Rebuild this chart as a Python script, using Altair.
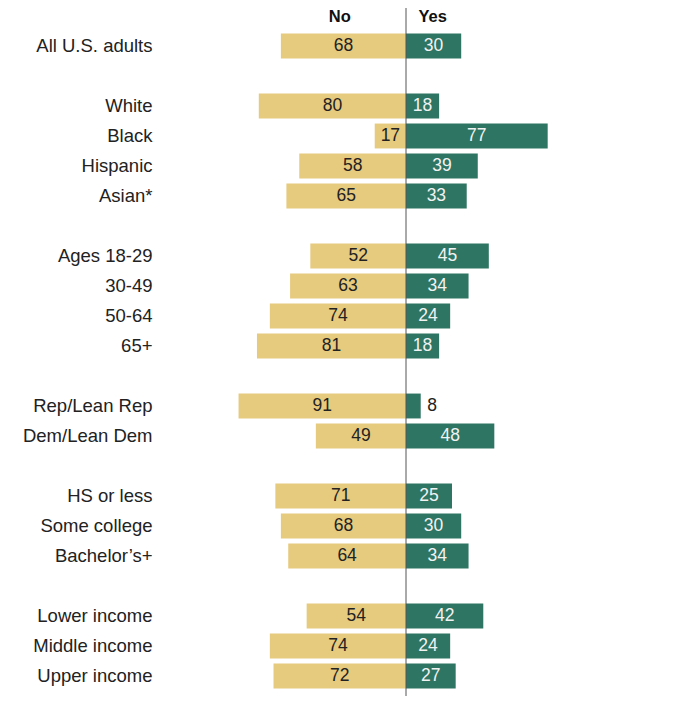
import altair as alt
import pandas as pd

categories = ["All U.S. adults", "_1", "White", "Black", "Hispanic", "Asian*", "_2",
              "Ages 18-29", "30-49", "50-64", "65+", "_3",
              "Rep/Lean Rep", "Dem/Lean Dem", "_4",
              "HS or less", "Some college", "Bachelor\u2019s+", "_5",
              "Lower income", "Middle income", "Upper income"]
groups = [c for c in categories if not c.startswith("_")]
no_values = [68, 80, 17, 58, 65, 52, 63, 74, 81, 91, 49, 71, 68, 64, 54, 74, 72]
yes_values = [30, 18, 77, 39, 33, 45, 34, 24, 18, 8, 48, 25, 30, 34, 42, 24, 27]

df = pd.DataFrame({"group": groups, "no": no_values, "yes": yes_values})

TAN = "#E6CA7E"
TEAL = "#2E7563"
FONT = "Liberation Sans"

W, H = 368, 660

y_enc = alt.Y("group:N", scale=alt.Scale(domain=categories, paddingInner=0.17, paddingOuter=0.085),
              axis=alt.Axis(title=None, domain=False, ticks=False, labelPadding=70,
                            labelFontSize=18.5, labelColor="#222", labelFont=FONT,
                            labelExpr="indexof(datum.value, '_') == 0 ? '' : datum.value"))
x_scale = alt.Scale(domain=[-100, 100])

base = alt.Chart(df)

no_bars = base.transform_calculate(neg="-datum.no", zero="0").mark_bar(color=TAN).encode(
    y=y_enc,
    x=alt.X("neg:Q", scale=x_scale, axis=None),
    x2="zero:Q",
)
yes_bars = base.transform_calculate(zero="0").mark_bar(color=TEAL).encode(
    y=alt.Y("group:N"),
    x=alt.X("yes:Q", scale=x_scale, axis=None),
    x2="zero:Q",
)
no_text = base.transform_calculate(pos="-datum.no/2").mark_text(
    font=FONT, fontSize=17.5, color="#222", baseline="middle", align="center"
).encode(y="group:N", x=alt.X("pos:Q", scale=x_scale), text="no:Q")

yes_text_in = base.transform_filter("datum.yes >= 10").transform_calculate(
    pos="datum.yes/2").mark_text(
    font=FONT, fontSize=17.5, color="#F2F2F2", baseline="middle", align="center"
).encode(y="group:N", x=alt.X("pos:Q", scale=x_scale), text="yes:Q")

yes_text_out = base.transform_filter("datum.yes < 10").transform_calculate(
    pos="datum.yes + 3.5").mark_text(
    font=FONT, fontSize=17.5, color="#222", baseline="middle", align="left"
).encode(y="group:N", x=alt.X("pos:Q", scale=x_scale), text="yes:Q")

rule = alt.Chart(pd.DataFrame({"x": [0]})).mark_rule(color="#555", strokeWidth=1).encode(
    x=alt.X("x:Q", scale=x_scale),
    y=alt.value(-23),
    y2=alt.value(H + 20),
)

headers = pd.DataFrame({"label": ["No", "Yes"], "x": [-36, 14.5]})
header_text = alt.Chart(headers).mark_text(
    font=FONT, fontSize=16.5, fontWeight="bold", color="#111", baseline="middle"
).encode(x=alt.X("x:Q", scale=x_scale), y=alt.value(-14), text="label:N")

chart = alt.layer(no_bars, yes_bars, no_text, yes_text_in, yes_text_out, rule, header_text).properties(
    width=W, height=H,
    padding={"left": 214, "top": 23, "right": 100, "bottom": 5},
    autosize=alt.AutoSizeParams(type="none"),
).configure(background="white").configure_view(stroke=None, strokeWidth=0)

chart.save("out.html", embed_options={"renderer": "svg", "actions": False})
